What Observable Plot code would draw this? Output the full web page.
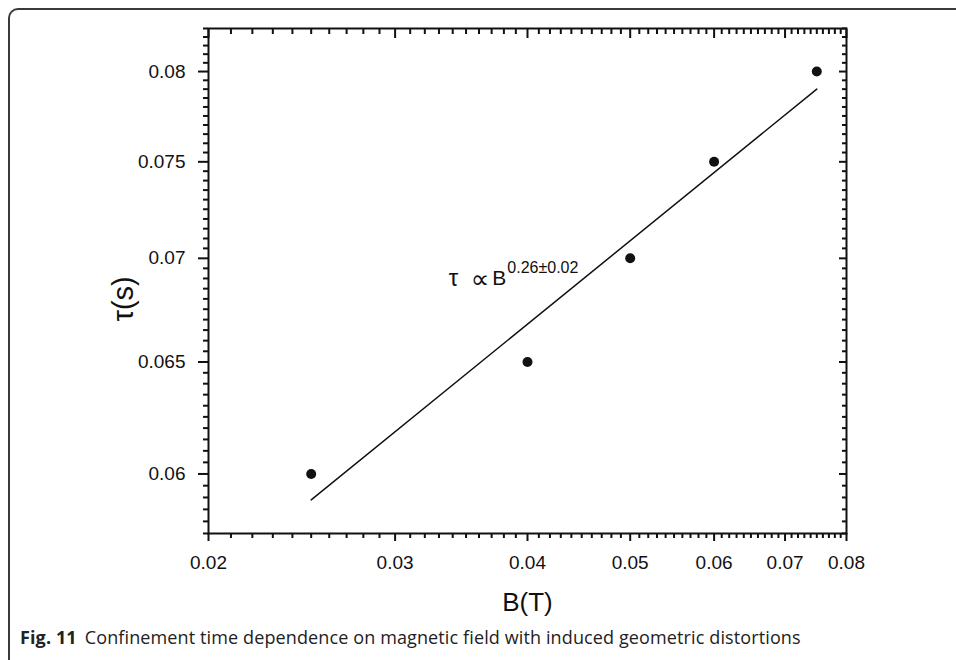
<!DOCTYPE html>
<html><head><meta charset="utf-8">
<script src="https://cdn.jsdelivr.net/npm/d3@7"></script>
<script src="https://cdn.jsdelivr.net/npm/@observablehq/plot@0.6"></script>
<style>
html,body{margin:0;padding:0;background:#fff;width:956px;height:660px;overflow:hidden;}
#border{position:absolute;left:8px;top:8px;width:1000px;height:700px;border-left:2px solid #3a3a3a;border-top:2px solid #3a3a3a;border-top-left-radius:10px;}
#chart{position:absolute;left:0;top:0;}
#caption{position:absolute;left:20px;top:625px;font-family:"Open Sans",sans-serif;font-size:18px;letter-spacing:0.12px;color:#222;white-space:nowrap;}
#caption b{margin-right:8px;}
</style></head><body>
<div id="border"></div>
<div id="chart"></div>
<div id="caption"><b>Fig. 11</b>Confinement time dependence on magnetic field with induced geometric distortions</div>
<script>
// measured points
const B = [0.025, 0.04, 0.05, 0.06, 0.075];
const tau = [0.06, 0.065, 0.07, 0.075, 0.08];
// power-law fit line
const fitB = [0.025, 0.075];
const fitTau = [0.0589, 0.0790];
// axis ticks
const xMajor = [0.02, 0.03, 0.04, 0.05, 0.06, 0.07, 0.08];
const xLabels = ["0.02", "0.03", "0.04", "0.05", "0.06", "0.07", "0.08"];
const yMajor = [0.06, 0.065, 0.07, 0.075, 0.08];
const yLabels = ["0.06", "0.065", "0.07", "0.075", "0.08"];
const xDomain = [0.02, 0.08];
const yDomain = [0.0575, 0.0825];
// axis titles
const xTitle = "B(T)";
const yTitle = "τ(s)";
const yTitleAt = [0.068];
// annotation  τ ∝ B^(0.26±0.02)
const annotB = [0.0382];
const annotTau = [0.069];
const annotExp = ["0.26±0.02"];

const points = B.map((b, i) => ({B: b, tau: tau[i]}));
const fit = fitB.map((b, i) => ({B: b, tau: fitTau[i]}));
const annot = annotB.map((b, i) => ({B: b, tau: annotTau[i], e: annotExp[i]}));
const ytitle = yTitleAt.map(v => ({tau: v, label: yTitle}));

const near = (v, arr) => arr.some(m => Math.abs(m - v) < 1e-7);
const xMinor = d3.range(21, 80).map(k => k / 1000).filter(v => !near(v, xMajor));
const yMinor = d3.range(115, 166).map(k => k / 2000).filter(v => !near(v, yMajor));

const xFmt = v => xLabels[xMajor.findIndex(m => Math.abs(m - v) < 1e-7)];
const yFmt = v => yLabels[yMajor.findIndex(m => Math.abs(m - v) < 1e-7)];
const ink = "#111";
const sans = "'Liberation Sans', Arial, sans-serif";

const chart = Plot.plot({
  width: 956, height: 620,
  marginLeft: 208, marginRight: 110, marginTop: 28, marginBottom: 87,
  style: {fontFamily: sans, fontSize: "19px", color: ink, background: "transparent"},
  x: {type: "log", domain: xDomain},
  y: {type: "log", domain: yDomain},
  marks: [
    // bottom axis (outward)
    Plot.axisX(xMajor, {anchor: "bottom", tickSize: 8, tickPadding: 14, tickFormat: xFmt, strokeWidth: 2, fontSize: 19, label: null}),
    Plot.axisX(xMinor, {anchor: "bottom", tickSize: 5, tickFormat: () => "", strokeWidth: 2, label: null}),
    // top axis (inward)
    Plot.axisX(xMajor, {anchor: "top", tickSize: 9, dy: 9, tickFormat: () => "", strokeWidth: 2, label: null}),
    Plot.axisX(xMinor, {anchor: "top", tickSize: 5, dy: 5, tickFormat: () => "", strokeWidth: 2, label: null}),
    // left axis (outward)
    Plot.axisY(yMajor, {anchor: "left", tickSize: 10, tickPadding: 13, tickFormat: yFmt, strokeWidth: 2, fontSize: 19, label: null}),
    Plot.axisY(yMinor, {anchor: "left", tickSize: 5, tickFormat: () => "", strokeWidth: 2, label: null}),
    // right axis (inward)
    Plot.axisY(yMajor, {anchor: "right", tickSize: 8, dx: -8, tickFormat: () => "", strokeWidth: 2, label: null}),
    Plot.axisY(yMinor, {anchor: "right", tickSize: 5, dx: -5, tickFormat: () => "", strokeWidth: 2, label: null}),
    Plot.frame({stroke: ink, strokeWidth: 2}),
    Plot.line(fit, {x: "B", y: "tau", stroke: ink, strokeWidth: 1.5}),
    Plot.dot(points, {x: "B", y: "tau", r: 5, fill: ink, stroke: "none"}),
    Plot.text(annot, {x: "B", y: "tau", text: () => "B", textAnchor: "end", fontSize: 21, fill: ink}),
    Plot.text(annot, {x: "B", y: "tau", text: () => "∝", textAnchor: "end", dx: -17, dy: 1, fontSize: 26, fontFamily: "'DejaVu Sans', sans-serif", fill: ink}),
    Plot.text(annot, {x: "B", y: "tau", text: () => "τ", textAnchor: "end", dx: -48, fontSize: 24, fill: ink}),
    Plot.text(annot, {x: "B", y: "tau", text: "e", textAnchor: "start", fontSize: 16, dx: 1, dy: -11, fill: ink}),
    Plot.text([xTitle], {frameAnchor: "bottom", dy: 77, fontSize: 26, fill: ink}),
    Plot.text(ytitle, {y: "tau", text: "label", frameAnchor: "left", textAnchor: "middle", rotate: -90, dx: -85, fontSize: 29, fill: ink})
  ]
});
document.getElementById("chart").appendChild(chart);
</script>
</body></html>
